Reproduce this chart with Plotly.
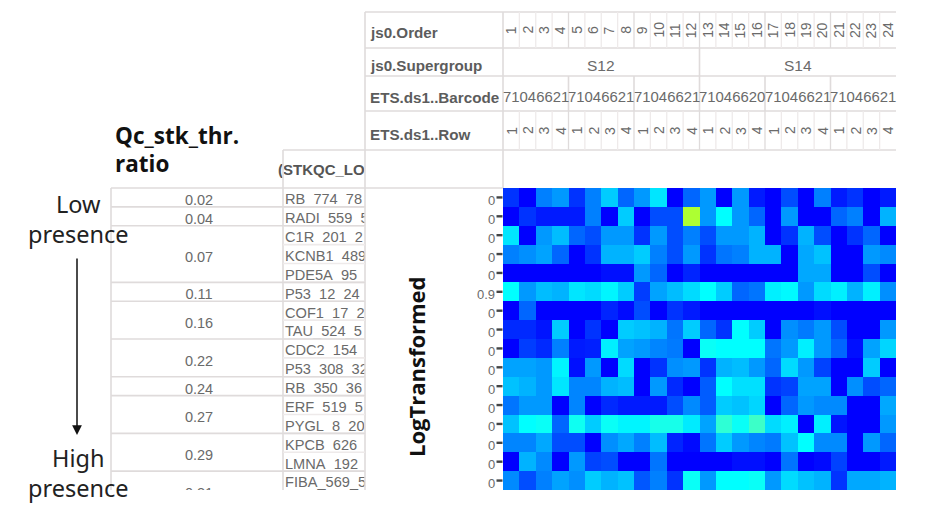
import plotly.graph_objects as go

W, H = 932, 516

# ---- data ----
order = list(range(1, 25))
supergroups = ["S12", "S14"]
barcodes = ["71046621", "71046621", "71046621", "71046620", "71046621", "71046621"]
plate_rows = [1, 2, 3, 4] * 6
row_labels = ["RB_774_78", "RADI_559_5", "C1R_201_2", "KCNB1_489", "PDE5A_95_", "P53_12_24",
              "COF1_17_2", "TAU_524_5", "CDC2_154_", "P53_308_32", "RB_350_36", "ERF_519_5",
              "PYGL_8_20", "KPCB_626_", "LMNA_192_", "FIBA_569_5"]
ratios = ["0.02", "0.04", "0.07", "0.11", "0.16", "0.22", "0.24", "0.27", "0.29", "0.31"]
ratio_rows = [1, 1, 3, 1, 2, 2, 1, 2, 2, 2]
heat_ticks = ["0", "0", "0", "0", "0", "0.9", "0", "0", "0", "0", "0", "0", "0", "0", "0", "0"]
heat_values = [
    [1, 0, 2.5, 3, 1, 2.5, 4, 2, 3, 4.5, 0, 2, 3, 0, 3, 0.5, 0, 1.5, 0, 2.5, 0.5, 1, 0, 0.5],
    [0, 1, 0.5, 0.5, 0.5, 2.5, 0, 4, 0, 1.5, 1.5, 8.5, 3, 5, 3, 2, 0, 3, 0, 0, 2, 2.5, 0, 3.5],
    [4.5, 0, 3, 3.7, 2, 1.5, 3, 3, 1, 3, 1.5, 2.5, 1.5, 3, 3, 3.5, 0, 1, 3.5, 1.5, 0, 1, 2, 0],
    [2.5, 2.8, 3.2, 2, 0, 1, 3.5, 3.5, 4, 2.5, 1.5, 3, 1, 2.3, 2.5, 3.5, 3.5, 0, 3.3, 3.8, 0, 0, 3, 2.7],
    [0, 0, 0, 0, 0, 0, 0.3, 0.3, 3, 2, 0, 0.7, 0, 0, 0, 0, 0, 0, 3.3, 3.3, 0, 0, 1.5, 0],
    [5, 3, 3.7, 3.5, 4.5, 4.3, 4.8, 4, 1.2, 3.2, 3.7, 4.3, 5, 4, 2, 2.3, 4.7, 4.9, 3, 4.3, 4.7, 3.5, 4.7, 2.8],
    [0, 2, 0, 0, 0, 0, 0.7, 0.2, 1.5, 0, 1, 0.5, 0, 0, 0, 0, 0, 0, 0, 0.3, 0, 0, 0, 0],
    [0.8, 0.8, 0.4, 4, 0, 1, 0, 4, 3.8, 3.5, 2.3, 4, 2, 1, 5, 4, 0, 2.8, 2.4, 3, 1.5, 0, 0, 3],
    [0, 1.2, 0.8, 2.5, 0.5, 0.6, 4.7, 3.2, 3, 2.6, 2.4, 0, 5.2, 5, 5, 5, 2.3, 3, 4.7, 3, 2, 0.3, 3.2, 4.2],
    [3.2, 3.2, 3, 4.8, 0.3, 3, 0, 4.3, 0, 1, 2.8, 3, 1, 3.5, 3.7, 3, 2, 4.3, 3, 1.3, 0, 0, 4, 0],
    [3.8, 3.5, 3, 4.5, 2.6, 2.6, 3.5, 3.7, 0, 3, 0.8, 0, 1.8, 5, 4.4, 4.4, 1, 1.3, 3.2, 3.2, 0, 2.8, 1.5, 2],
    [2.3, 3, 3, 0, 2.6, 0, 0.8, 0.5, 0.5, 0.5, 1.5, 2.7, 1.8, 4, 3.8, 4.2, 0, 2, 3, 2.7, 2.7, 0, 0, 3.3],
    [3.8, 5, 5.2, 2, 5.3, 4, 5.2, 4.8, 4.8, 5.5, 5.5, 4.6, 3.2, 6, 5.2, 6.3, 4.3, 4.7, 0, 4.7, 0.4, 0, 0, 3],
    [2.6, 2.6, 3.3, 1.5, 1.5, 0, 2.8, 3.3, 2.5, 3.7, 0.7, 0.2, 2.3, 4, 3, 2.6, 2.4, 3.8, 5, 2.7, 2.7, 0, 3, 2],
    [0, 3.5, 2.7, 0, 3, 1.3, 1.5, 0, 0, 2.3, 0, 0, 0, 0, 0.3, 0.3, 0, 2.3, 0, 0.2, 1.3, 0, 0, 0.5],
    [2.7, 1.5, 2.5, 3.2, 2.8, 4, 3.5, 3.8, 1.7, 2.5, 1, 5.2, 3, 5, 5, 5.2, 3, 4.3, 3.8, 3.5, 1, 3.3, 3.3, 3.5],
]

# ---- layout geometry (pixels) ----
HX0, HX1, HY0, HY1 = 503, 896, 188, 490
TX0, TY0 = 111, 150
n_rows, n_cols = len(heat_values), len(order)
cw = (HX1 - HX0) / n_cols
rh = (HY1 - HY0) / n_rows
GRID = "#dfdbdb"
LIGHT = "#eeeaea"
TXT = "#6a6a6a"
TFONT = "Liberation Sans"


def px(x):
    return x / W


def py(y):
    return 1 - y / H


shapes = []


def line(x0, y0, x1, y1, color=GRID, width=1.6, layer="below"):
    shapes.append(dict(type="line", xref="paper", yref="paper", x0=px(x0), x1=px(x1),
                       y0=py(y0), y1=py(y1), line=dict(color=color, width=width), layer=layer))


# header table
for y in [12, 48, 76, 111, 150]:
    line(365, y, HX1, y)
line(111, HY0, HX0, HY0)
line(283, TY0, 365, TY0)
line(365, 12, 365, HY1, layer="above")
line(HX0, 12, HX0, HY0)
line(283, TY0, 283, HY1, layer="above")
line(TX0, HY0, TX0, HY1)
for k in range(1, n_cols):
    x = HX0 + k * cw
    line(x, 12, x, 48, LIGHT if k % 4 else GRID, 1.3)
    line(x, 111, x, 150, LIGHT if k % 4 else GRID, 1.3)
    if k % 4 == 0:
        line(x, 76, x, 111)
line(HX0 + 12 * cw, 48, HX0 + 12 * cw, 76)

# body table: the rules sit over the text, as they do in the reference
for i in range(1, n_rows):
    line(283, HY0 + i * rh, 365, HY0 + i * rh, LIGHT, 1.6, layer="above")
r = 0
for n in ratio_rows:
    r += n
    y = HY0 + r * rh
    if y < HY1:
        line(TX0, y, 283, y, layer="above")
        line(283, y, 365, y, layer="above")

# tick dashes of the heatmap's row axis
for i in range(n_rows):
    y = HY0 + (i + 0.5) * rh
    line(496.5, y, 502.5, y, "#444444", 2.4, layer="above")

annotations = []


def note(text, x, y, size, color=TXT, bold=False, anchor="center", angle=0, family=TFONT, xref="paper"):
    annotations.append(dict(text=f"<b>{text}</b>" if bold else text, x=x, y=py(y), xref=xref, yref="paper",
                            xanchor=anchor, yanchor="middle", showarrow=False, textangle=angle,
                            font=dict(size=size, color=color, family=family)))


for name, y in [("js0.Order", 32), ("js0.Supergroup", 65), ("ETS.ds1..Barcode", 97), ("ETS.ds1..Row", 134)]:
    note(name, px(367.5), y, 15.2, "#5c5c5c", True, "left")
for k, v in enumerate(order):
    note(str(v), k + 1, 30, 14, TXT, angle=-90, xref="x")
for k, v in enumerate(plate_rows):
    note(str(v), k + 1, 130.5, 14, TXT, angle=-90, xref="x")
for k, v in enumerate(supergroups):
    note(v, 6.5 + 12 * k, 65, 15.5, TXT, xref="x")
for k, v in enumerate(barcodes):
    note(v, 2.5 + 4 * k, 97, 14.9, TXT, xref="x")

# the heatmap's row values print a little below their tick dashes
for i, v in enumerate(heat_ticks):
    annotations.append(dict(text=v, x=px(497), y=i + 0.5, xref="paper", yref="y", xanchor="right",
                            yanchor="middle", yshift=-3, showarrow=False,
                            font=dict(size=13, color=TXT, family=TFONT)))

note("Qc_stk_thr.", px(113), 135, 22.5, "#111111", True, "left", family="Open Sans")
note("ratio", px(113), 163, 22.5, "#111111", True, "left", family="Open Sans")
note("Low", px(78), 204, 23.5, "#222222", family="Noto Sans")
note("presence", px(78), 234, 23.5, "#222222", family="Noto Sans")
note("High", px(78), 458, 23.5, "#222222", family="Noto Sans")
note("presence", px(78), 488, 23.5, "#222222", family="Noto Sans")
note("LogTransformed", px(416), 367, 22, "#111111", True, angle=-90, family="Open Sans")
annotations.append(dict(x=px(77), y=py(435), ax=0, ay=-178, xref="paper", yref="paper",
                        axref="pixel", ayref="pixel", text="", showarrow=True, arrowhead=2,
                        arrowsize=1.3, arrowwidth=1.5, arrowcolor="#111111"))

fig = go.Figure()
fig.add_trace(go.Heatmap(
    z=heat_values, x=order, y=[i + 0.5 for i in range(n_rows)], zmin=0, zmax=10, showscale=False,
    colorscale=[[0, "#0000ff"], [0.5, "#00ffff"], [0.63, "#3cffc8"], [0.85, "#adff32"], [1, "#ffff00"]],
    xaxis="x", yaxis="y", hoverinfo="z"))

# table text lives in a clipped panel so it is cut at the table edges
ratio_shift = 4 / rh
label_shift = 3.2 / rh
cum, ratio_y = 0, []
for n in ratio_rows:
    ratio_y.append(cum + n / 2 + ratio_shift)
    cum += n
fig.add_trace(go.Scatter(x=[199] * len(ratios), y=ratio_y, text=ratios, mode="text", textposition="middle center",
                         textfont=dict(size=14.5, color=TXT, family=TFONT), xaxis="x2", yaxis="y2", cliponaxis=True,
                         hoverinfo="skip"))
fig.add_trace(go.Scatter(x=[285] * n_rows, y=[i + 0.5 + label_shift for i in range(n_rows)], text=row_labels,
                         mode="text", textposition="middle right",
                         textfont=dict(size=14.6, color=TXT, family=TFONT), xaxis="x2", yaxis="y2", cliponaxis=True,
                         hoverinfo="skip"))
fig.add_trace(go.Scatter(x=[278], y=[-0.874], text=["<b>(STKQC_LOG</b>"], mode="text", textposition="middle right",
                         textfont=dict(size=15, color="#555555", family=TFONT), xaxis="x2", yaxis="y2",
                         cliponaxis=True, hoverinfo="skip"))

top_rows = (HY0 - TY0) / rh
fig.update_layout(
    width=W, height=H, margin=dict(l=0, r=0, t=0, b=0), paper_bgcolor="white", plot_bgcolor="rgba(0,0,0,0)",
    showlegend=False, shapes=shapes, annotations=annotations,
    xaxis=dict(domain=[px(HX0), px(HX1)], range=[0.5, n_cols + 0.5], anchor="y", showgrid=False, zeroline=False,
               showticklabels=False, ticks=""),
    yaxis=dict(domain=[py(HY1), py(HY0)], range=[n_rows, 0], anchor="x", showgrid=False, zeroline=False,
               showticklabels=False, ticks=""),
    xaxis2=dict(domain=[px(TX0 - 34), px(365)], range=[TX0 - 34, 365], anchor="y2", visible=False),
    yaxis2=dict(domain=[py(HY1), py(TY0)], range=[n_rows, -top_rows], anchor="x2", visible=False),
)

fig.write_html("out.html", config={"displayModeBar": False}, post_script="document.body.style.margin='0';")
